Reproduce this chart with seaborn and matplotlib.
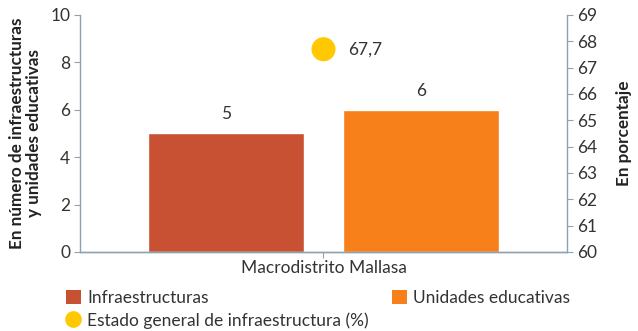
import matplotlib
matplotlib.use("Agg")
import matplotlib.pyplot as plt
from matplotlib.lines import Line2D
from matplotlib.patches import Patch
import seaborn as sns
import pandas as pd

# Data
district = ["Macrodistrito Mallasa"]
series = ["Infraestructuras", "Unidades educativas"]
counts = [5, 6]
pct_label = "Estado general de infraestructura (%)"
pct_values = [67.7]

colors = ["#C85033", "#F7801A"]
dot_color = "#FFC800"
axis_color = "#8FA2B2"
text_color = "#333333"
fs = 12.5

sns.set_theme(style="white")
plt.rcParams["font.family"] = ["Lato", "DejaVu Sans"]

df_bars = pd.DataFrame({
    "distrito": district * len(series),
    "serie": series,
    "valor": counts,
})
df_pct = pd.DataFrame({"distrito": district, "pct": pct_values})

fig = plt.figure(figsize=(6.38, 3.31), dpi=100)
ax = fig.add_axes([0.1254, 0.2387, 0.7633, 0.716])

sns.barplot(data=df_bars, x="distrito", y="valor", hue="serie",
            palette=colors, width=0.8, gap=0.2, ax=ax, legend=False,
            saturation=1)
ax.set_ylim(0, 10)
ax.set_xlim(-0.5, 0.5)
ax.set_yticks([0, 2, 4, 6, 8, 10])
ax.set_xlabel("")
ax.set_ylabel("En número de infraestructuras\ny unidades educativas",
              fontsize=12.3, fontweight="bold", color="#222222", labelpad=6,
              linespacing=1.05)

for cont in ax.containers:
    ax.bar_label(cont, labels=[f"{v:g}" for v in cont.datavalues],
                 padding=8, fontsize=fs, color=text_color)

ax2 = ax.twinx()
sns.scatterplot(data=df_pct, x="distrito", y="pct", color=dot_color,
                s=300, edgecolor="none", ax=ax2, legend=False)
ax2.set_ylim(60, 69)
ax2.set_yticks(range(60, 70))
ax2.set_ylabel("En porcentaje", fontsize=12.3, fontweight="bold",
               color="#222222", labelpad=14)
ax.set_xlim(-0.5, 0.5)
for x, v in zip([0], pct_values):
    ax2.annotate(f"{v:.1f}".replace(".", ","), (x, v), xytext=(18, 0),
                 textcoords="offset points", va="center", ha="left",
                 fontsize=fs, color=text_color)

for a in (ax, ax2):
    for side in ("left", "right", "bottom"):
        a.spines[side].set_color(axis_color)
        a.spines[side].set_linewidth(1.0)
    a.spines["top"].set_visible(False)
    a.tick_params(axis="y", length=4, width=0.8, color=axis_color,
                  labelsize=fs, labelcolor=text_color, pad=3)
ax2.spines["left"].set_visible(False)
ax.spines["right"].set_visible(False)
ax.tick_params(axis="y", left=True)
ax2.tick_params(axis="y", right=True)
ax.tick_params(axis="x", bottom=True, length=4, width=0.8, color=axis_color,
               labelsize=fs, labelcolor=text_color, pad=2)

handles = [
    Patch(facecolor=colors[0], edgecolor="none", label=series[0]),
    Line2D([], [], marker="o", linestyle="none", markersize=12,
           markerfacecolor=dot_color, markeredgecolor="none", label=pct_label),
    Patch(facecolor=colors[1], edgecolor="none", label=series[1]),
]
fig.legend(handles=handles, ncol=2, loc="upper left",
           bbox_to_anchor=(0.09, 0.15), frameon=False, fontsize=fs,
           handlelength=0.85, handleheight=0.85, handletextpad=0.35,
           columnspacing=1.35, labelspacing=0.35, borderpad=0,
           labelcolor=text_color)

fig.savefig("out.png", dpi=100)
